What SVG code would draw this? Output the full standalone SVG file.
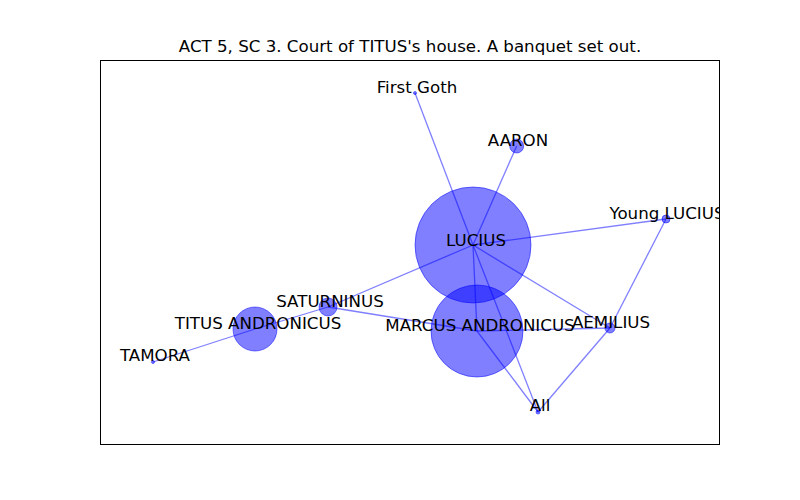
<svg xmlns="http://www.w3.org/2000/svg" width="800" height="500" viewBox="0 0 800 500">
<style>
.e{stroke:#0000ff;stroke-opacity:0.5;stroke-width:1.3;fill:none}
.n{fill:#0000ff;fill-opacity:0.5;stroke:#0000ff;stroke-opacity:0.5;stroke-width:1}
.l{font-family:"DejaVu Sans",sans-serif;font-size:16.67px;fill:#000;text-anchor:middle}
.t{font-family:"DejaVu Sans",sans-serif;font-size:16.67px;fill:#000;text-anchor:middle}
</style>
<defs><clipPath id="ax"><rect x="100" y="60" width="620" height="385"/></clipPath></defs>
<rect x="0" y="0" width="800" height="500" fill="#fff"/>
<text class="t" x="410" y="52">ACT 5, SC 3. Court of TITUS's house. A banquet set out.</text>
<g id="edges" clip-path="url(#ax)">
<line class="e" x1="473" y1="245" x2="415" y2="93"/>
<line class="e" x1="473" y1="245" x2="516.7" y2="146"/>
<line class="e" x1="473" y1="245" x2="666" y2="219"/>
<line class="e" x1="473" y1="245" x2="610" y2="328"/>
<line class="e" x1="473" y1="245" x2="538" y2="412"/>
<line class="e" x1="473" y1="245" x2="477" y2="331"/>
<line class="e" x1="473" y1="245" x2="328" y2="307"/>
<line class="e" x1="477" y1="331" x2="538" y2="412"/>
<line class="e" x1="477" y1="331" x2="610" y2="328"/>
<line class="e" x1="477" y1="331" x2="328" y2="307"/>
<line class="e" x1="328" y1="307" x2="255" y2="329"/>
<line class="e" x1="255" y1="329" x2="153" y2="362"/>
<line class="e" x1="666" y1="219" x2="610" y2="328"/>
<line class="e" x1="610" y1="328" x2="538" y2="412"/>
</g>
<g id="node-lucius"><circle class="n" cx="473" cy="245" r="58"/></g>
<g id="node-marcus"><circle class="n" cx="477" cy="331" r="46"/></g>
<g id="node-titus"><circle class="n" cx="255" cy="329" r="22"/></g>
<g id="node-saturninus"><circle class="n" cx="328" cy="307" r="9"/></g>
<g id="node-aaron"><circle class="n" cx="516.7" cy="146" r="7"/></g>
<g id="node-aemilius"><circle class="n" cx="610" cy="328" r="5"/></g>
<g id="node-young-lucius"><circle class="n" cx="666" cy="219" r="4"/></g>
<g id="node-all"><circle class="n" cx="538" cy="412" r="2"/></g>
<g id="node-first-goth"><circle class="n" cx="415" cy="93" r="1.5"/></g>
<g id="node-tamora"><circle class="n" cx="153" cy="362" r="1.5"/></g>
<g id="labels" clip-path="url(#ax)">
<text class="l" x="476" y="245.5">LUCIUS</text>
<text class="l" x="480" y="330.5">MARCUS ANDRONICUS</text>
<text class="l" x="258" y="328.5">TITUS ANDRONICUS</text>
<text class="l" x="330" y="306.5">SATURNINUS</text>
<text class="l" x="518" y="145.5">AARON</text>
<text class="l" x="611" y="327.5">AEMILIUS</text>
<text class="l" x="667" y="218.5">Young LUCIUS</text>
<text class="l" x="540" y="411">All</text>
<text class="l" x="417" y="93">First Goth</text>
<text class="l" x="155" y="361">TAMORA</text>
</g>
<rect x="100.5" y="60.5" width="619" height="384" fill="none" stroke="#000" stroke-width="1"/>
</svg>
